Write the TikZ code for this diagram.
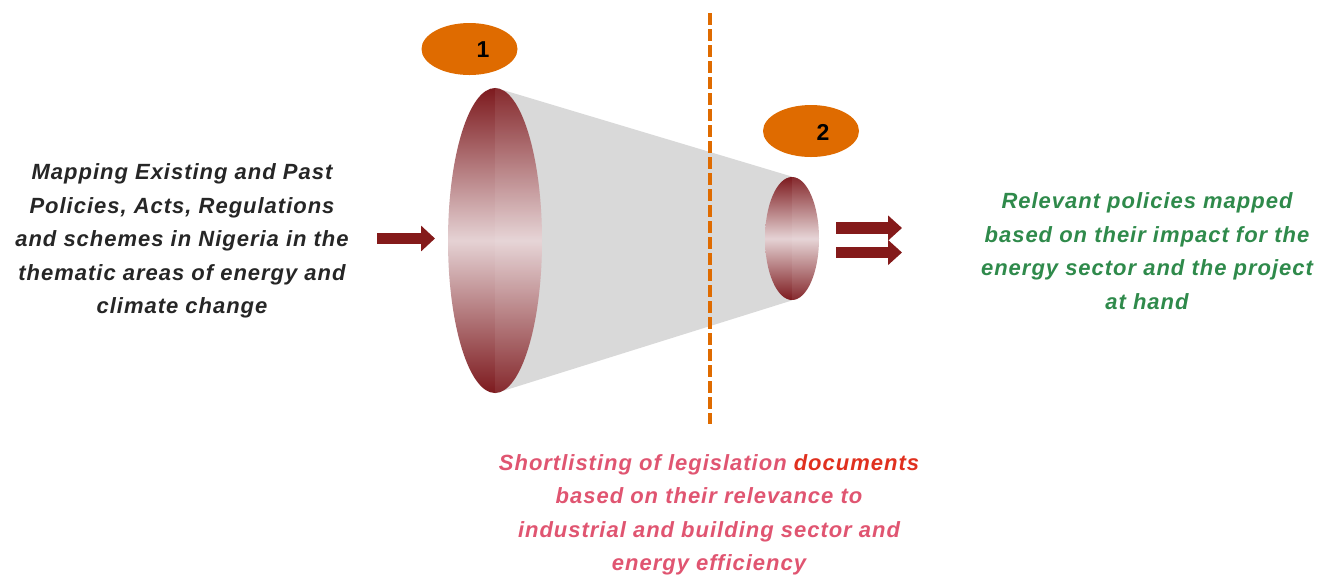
\documentclass[tikz,border=0pt]{standalone}
\usepackage{fontspec}
\setmainfont{Liberation Sans}
\usetikzlibrary{shapes.geometric,arrows.meta,backgrounds}
\definecolor{darkred}{HTML}{841A1A}
\definecolor{lensdark}{HTML}{7D1A1E}
\definecolor{lenslight}{HTML}{E5D2D4}
\definecolor{orng}{HTML}{DF6B00}
\definecolor{conegray}{HTML}{D9D9D9}
\definecolor{txtdark}{HTML}{262626}
\definecolor{txtgreen}{HTML}{2F8A4B}
\definecolor{txtpink}{HTML}{E05571}
\definecolor{txtred}{HTML}{E0301E}
\tikzset{
  lens/.style={ellipse, inner sep=0pt, top color=lensdark, bottom color=lensdark, middle color=lenslight},
  badge/.style={ellipse, fill=orng, inner sep=0pt, minimum width=48pt, minimum height=26pt},
  badgenum/.style={font=\fontsize{11.5}{13}\selectfont\bfseries, text=black},
  fatarrow/.style={darkred, line width=5.7pt, -{Triangle[length=7pt,width=12.2pt]}},
  desc/.style={font=\fontsize{11}{16.75}\selectfont\bfseries\itshape\addfontfeatures{LetterSpace=4.5}, align=center}
}
\begin{document}
\begin{tikzpicture}[x=0.5pt,y=-0.5pt]
\useasboundingbox (0,0) rectangle (1330,575);
% lenses
\node[lens, minimum width=47pt, minimum height=152.5pt] (big) at (495,240.5) {};
\node[lens, minimum width=27pt, minimum height=61.5pt] (small) at (792,238.5) {};
% faint right halves
\begin{scope}
  \clip (495,240.5) ellipse [x radius=23.5pt, y radius=76.25pt];
  \fill[white, opacity=0.07] (495,80) rectangle (545,400);
\end{scope}
\begin{scope}
  \clip (792,238.5) ellipse [x radius=13.5pt, y radius=30.75pt];
  \fill[white, opacity=0.07] (792,170) rectangle (822,305);
\end{scope}
% cone
\begin{scope}[on background layer]
  \fill[conegray] (big.north) -- (small.north) -- (small.south) -- (big.south) -- cycle;
\end{scope}
% dashed divider
\coordinate (dtop) at (710,13);
\coordinate (dbot) at (710,424);
\draw[orng, line width=2pt, dash pattern=on 6pt off 2pt] (dtop) -- (dbot);
% badges
\node[badge] (b1) at (469.5,49) {};
\node[badgenum] (n1) at (483,50) {1};
\node[badge] (b2) at (811,131) {};
\node[badgenum] (n2) at (823,132) {2};
% arrows
\coordinate (ainS) at (377,238.5);
\coordinate (ainE) at (435,238.5);
\coordinate (aoS1) at (836,228);
\coordinate (aoE1) at (902,228);
\coordinate (aoS2) at (836,252.5);
\coordinate (aoE2) at (902,252.5);
\draw[fatarrow, line width=5.5pt, -{Triangle[length=7pt,width=12.5pt]}] (ainS) -- (ainE);
\draw[fatarrow] (aoS1) -- (aoE1);
\draw[fatarrow] (aoS2) -- (aoE2);
% texts
\node[desc, text=txtdark] (left) at (182,241) {Mapping Existing and Past\\Policies, Acts, Regulations\\and schemes in Nigeria in the\\thematic areas of energy and\\climate change};
\node[desc, text=txtgreen] (right) at (1147,251) {Relevant policies mapped\\based on their impact for the\\energy sector and the project\\at hand};
\node[desc, text=txtpink] (bottom) at (709,515) {Shortlisting of legislation \textcolor{txtred}{documents}\\based on their relevance to\\industrial and building sector and\\energy efficiency};
\end{tikzpicture}
\end{document}
